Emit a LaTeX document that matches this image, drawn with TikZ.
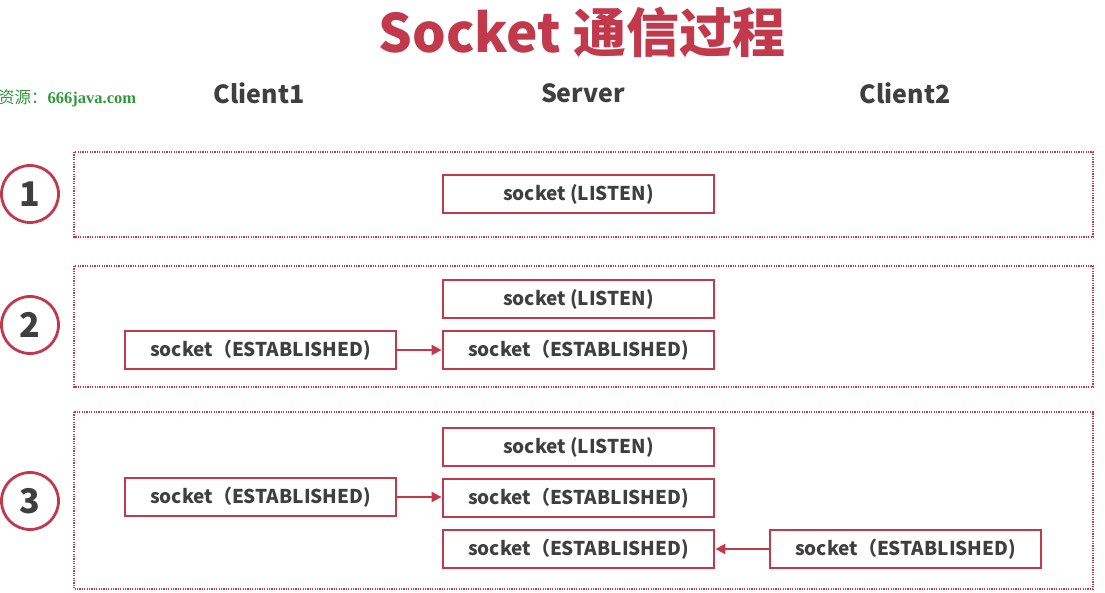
\documentclass[tikz,border=0pt]{standalone}
\usepackage{fontspec}
\setmainfont{Noto Sans CJK SC}
\newfontfamily\cjk{Noto Sans CJK SC}
\newfontfamily\srf{Liberation Serif}
\usetikzlibrary{arrows.meta}
\definecolor{rd}{HTML}{C3394C}
\definecolor{tx}{HTML}{3F3F3F}
\definecolor{gn}{HTML}{2E9A3C}
\tikzset{
  panel/.style={draw=rd, line width=1.2pt, dash pattern=on 1.2pt off 1.2pt},
  sbox/.style={draw=rd, line width=2.8pt, minimum width=271pt, minimum height=38pt, inner sep=0pt,
     font=\fontsize{19}{22}\selectfont\bfseries, text=tx},
  num/.style={draw=rd, line width=2.8pt, circle, minimum size=57pt, inner sep=0pt,
     font=\fontsize{34}{36}\selectfont\bfseries, text=tx},
  head/.style={font=\fontsize{25}{28}\selectfont\bfseries, text=tx},
  arr/.style={draw=rd, line width=2.4pt, -{Triangle[length=10pt,width=10pt]}},
}
\begin{document}
\begin{tikzpicture}[x=1pt,y=-1pt]
\useasboundingbox (0,0) rectangle (1105,593);
\node[text=rd, font=\fontsize{53}{56}\selectfont\bfseries] (title) at (582,32) {Socket 通信过程};
\node[anchor=west, text=gn, inner sep=0pt] (src) at (-2,98) {\fontsize{16.5}{18}\selectfont\cjk 资源：\srf\bfseries 666java.com};
\node[head] (c1) at (259,93) {Client1};
\node[head] (sv) at (583,93) {Server};
\node[head] (c2) at (905,93) {Client2};

\draw[panel] (74,152) rectangle (1093,237);
\draw[panel] (74,266) rectangle (1093,387);
\draw[panel] (74,412) rectangle (1093,589);

\node[num] (n1) at (30,194) {1};
\node[num] (n2) at (30,325) {2};
\node[num] (n3) at (30,501) {3};

\node[sbox] (s1) at (578.5,194) {socket (LISTEN)};

\node[sbox] (s2l) at (578.5,299) {socket (LISTEN)};
\node[sbox] (s2e) at (578.5,350) {socket（ESTABLISHED)};
\node[sbox] (c2e) at (260.5,350) {socket（ESTABLISHED)};

\node[sbox] (s3l) at (578.5,447) {socket (LISTEN)};
\node[sbox] (s3e) at (578.5,498) {socket（ESTABLISHED)};
\node[sbox] (s3f) at (578.5,549) {socket（ESTABLISHED)};
\node[sbox] (c3e) at (260.5,497) {socket（ESTABLISHED)};
\node[sbox] (d3e) at (905.5,549) {socket（ESTABLISHED)};

\draw[arr] (c2e.east) -- (s2e.west);
\draw[arr] (c3e.east) -- (s3e.west|-c3e.east);
\draw[arr] (d3e.west) -- (s3f.east);
\end{tikzpicture}
\end{document}
